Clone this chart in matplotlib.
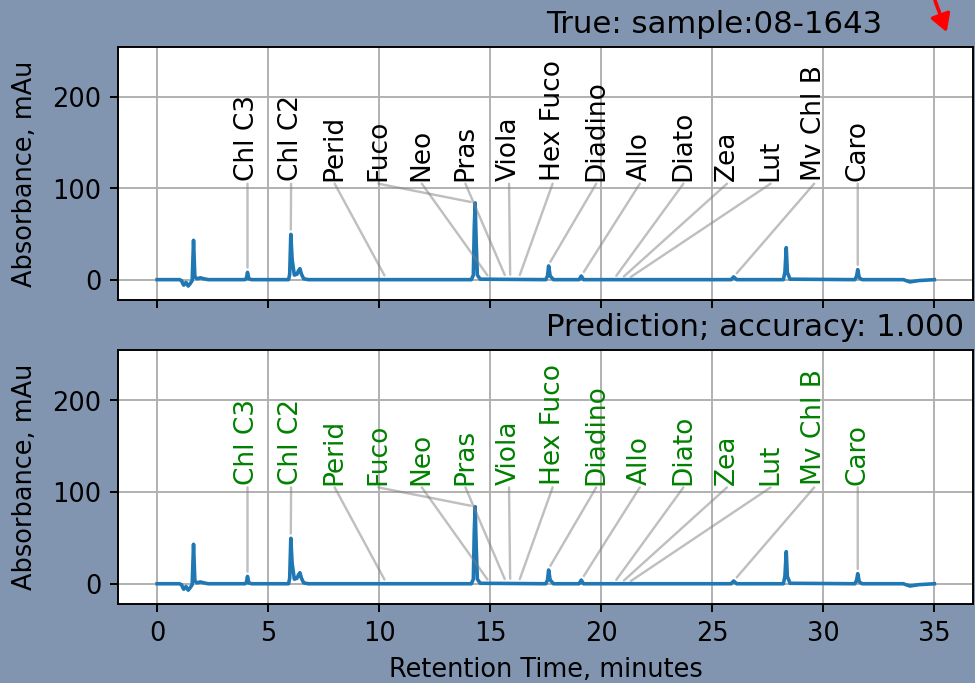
import numpy as np
import matplotlib
matplotlib.use("Agg")
import matplotlib.pyplot as plt
from matplotlib.patches import FancyArrowPatch

# ---- chromatogram ----
time_min = [0.0, 1.0, 1.1, 1.15, 1.2, 1.3, 1.4, 1.5, 1.58, 1.64, 1.7, 1.8, 1.95, 2.1, 2.3,
            3.95, 4.02, 4.07, 4.13, 4.25,
            5.92, 5.97, 6.02, 6.08, 6.18, 6.3, 6.37, 6.43, 6.5, 6.6, 6.8,
            14.15, 14.24, 14.28, 14.32, 14.37, 14.42, 14.55,
            17.5, 17.58, 17.63, 17.7, 17.85,
            19.0, 19.1, 19.2,
            25.85, 25.96, 26.1,
            28.2, 28.27, 28.33, 28.38, 28.5,
            31.42, 31.5, 31.55, 31.62, 31.75,
            33.6, 33.9, 34.3, 35.0]
absorbance = [0, 0, -1, -4, -6, -3, -7, -4, -1, 43, 3, 1, 2, 1, 0,
              0, 1, 8, 1, 0,
              0, 6, 49.5, 22, 5, 6, 10, 12, 6, 1, 0,
              0, 5, 55, 84, 40, 5, 0.5,
              0, 4, 15, 4, 0,
              0, 4, 0,
              0, 3, 0,
              0, 8, 35, 8, 0.5,
              0, 4, 11, 2, 0,
              0, -2.5, -1, 0]

# ---- pigments and retention times ----
pigments = ["Chl C3", "Chl C2", "Perid", "Fuco", "Neo", "Pras", "Viola", "Hex Fuco",
            "Diadino", "Allo", "Diato", "Zea", "Lut", "Mv Chl B", "Caro"]
true_rt = [4.07, 6.02, 10.34, 14.33, 15.0, 15.74, 15.9, 16.26,
           17.6, 19.1, 20.55, 20.86, 21.15, 25.96, 31.55]
pred_rt = [4.07, 6.02, 10.34, 14.33, 15.0, 15.74, 15.9, 16.26,
           17.6, 19.1, 20.55, 20.86, 21.15, 25.96, 31.55]
sample_id = "08-1643"
accuracy = 1.000

t = np.array(time_min)
a = np.array(absorbance)

plt.rcParams["font.size"] = 10.7

BG = "#8195b0"
fig = plt.figure(figsize=(975.4 / 173, 683.4 / 173), dpi=173, facecolor=BG)
ax1 = fig.add_axes([0.121, 0.5608, 0.877, 0.3704])
ax2 = fig.add_axes([0.121, 0.1157, 0.877, 0.3719], sharex=ax1)


def target_y(rt):
    near = a[np.abs(t - rt) <= 0.08]
    v = np.interp(rt, t, a)
    if near.size:
        v = max(v, near.max())
    return v


def draw(ax, rts, color, title):
    ax.plot(t, a, color="#1f77b4", lw=1.5)
    lab_x = np.linspace(min(rts), max(rts), len(pigments))
    for name, rt, lx in zip(pigments, rts, lab_x):
        ax.text(lx, 108, name, rotation=90, ha="center", va="bottom",
                color=color, fontsize=11)
        ax.annotate("", xy=(rt, target_y(rt)), xytext=(lx, 105),
                    arrowprops=dict(arrowstyle="-", color="gray", alpha=0.5,
                                    lw=1.0, shrinkA=0, shrinkB=2))
    ax.set_ylim(-22, 255)
    ax.set_yticks([0, 100, 200])
    ax.grid(True)
    ax.set_ylabel("Absorbance, mAu", labelpad=6)
    ax.set_title(title, ha="left", fontsize=12.8)


draw(ax1, true_rt, "black", "True: sample:" + sample_id)
draw(ax2, pred_rt, "green", "Prediction; accuracy: %.3f" % accuracy)
ax1.set_xlim(-1.76, 36.76)
ax1.tick_params(labelbottom=False)
ax2.set_xlabel("Retention Time, minutes")
ax2.set_xticks([0, 5, 10, 15, 20, 25, 30, 35])

fig.add_artist(FancyArrowPatch(
    (933 / 975, 1.005), (948 / 975, 1 - 37 / 683),
    transform=fig.transFigure, arrowstyle="-|>,head_length=0.6,head_width=0.35",
    mutation_scale=10, color="red", lw=1.5))

fig.savefig("out.png", dpi=173, facecolor=BG)
